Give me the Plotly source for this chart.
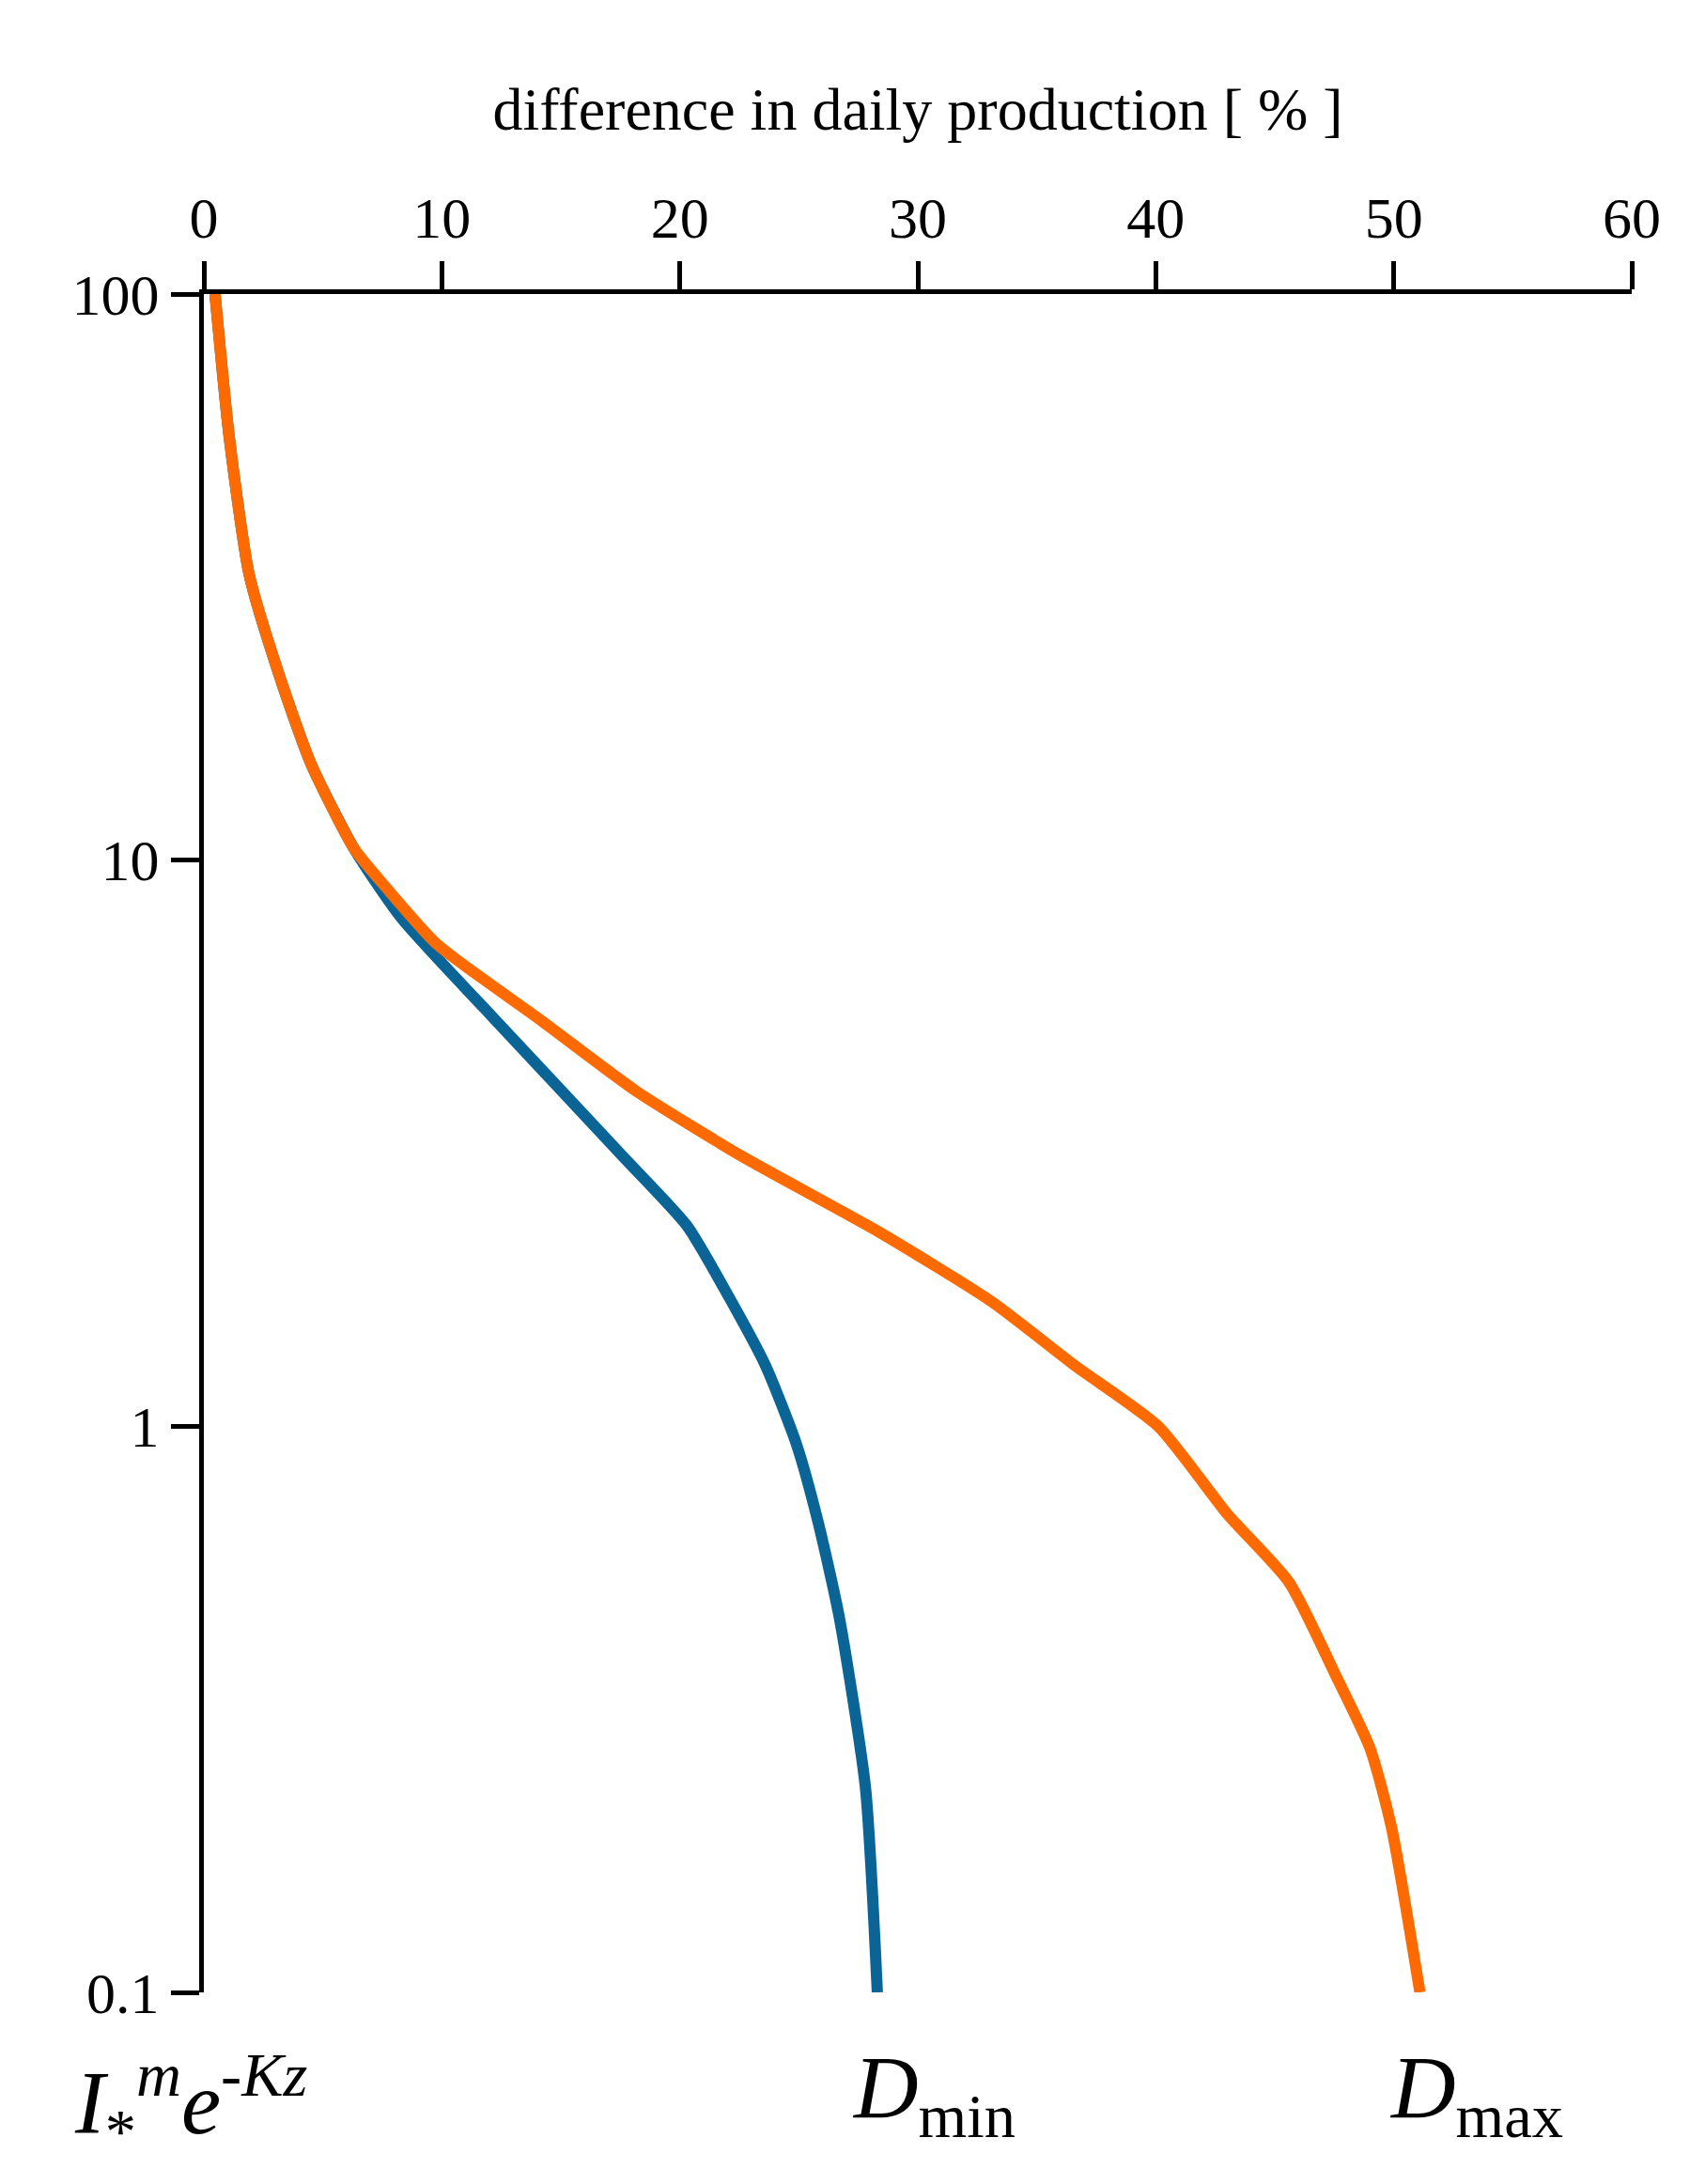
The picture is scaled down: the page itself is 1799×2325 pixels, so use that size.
import plotly.graph_objects as go

irr_max = [100, 56.6, 32, 21, 14.8, 10.5, 8.9, 7.1, 5.2, 3.9, 3.0, 2.2, 1.66, 1.28, 1.0, 0.70, 0.53, 0.36, 0.27, 0.196, 0.1]
d_max = [0.47, 1.05, 1.9, 3.2, 4.5, 6.3, 7.7, 9.8, 14.2, 18.2, 22.6, 28.4, 33.1, 36.6, 40.1, 43.0, 45.6, 47.6, 49.0, 49.9, 51.1]
irr_min = [100, 56.6, 32, 21, 14.8, 10.5, 7.9, 5.3, 3.0, 2.26, 1.71, 1.28, 0.93, 0.68, 0.46, 0.23, 0.1]
d_min = [0.47, 1.05, 1.9, 3.2, 4.5, 6.3, 8.3, 12.1, 17.6, 20.3, 22.0, 23.6, 24.9, 25.8, 26.7, 27.8, 28.3]

F = "Liberation Serif"
fig = go.Figure()
fig.add_trace(go.Scatter(x=d_min, y=irr_min, mode="lines", line=dict(color="#0a6496", width=12, shape="spline", smoothing=0.6)))
fig.add_trace(go.Scatter(x=d_max, y=irr_max, mode="lines", line=dict(color="#ff6a00", width=12, shape="spline", smoothing=0.6)))

fig.update_layout(
    width=1799, height=2325, showlegend=False,
    plot_bgcolor="white", paper_bgcolor="white",
    margin=dict(l=209, r=70, t=305, b=212),
    font=dict(family=F, size=62, color="black"),
    xaxis=dict(side="top", range=[0, 60], tickvals=[0, 10, 20, 30, 40, 50, 60],
               showgrid=False, zeroline=False, showline=True, linecolor="black", linewidth=5,
               ticks="outside", ticklen=30, tickwidth=5, tickcolor="black",
               title=dict(text="difference in daily production [ % ]", font=dict(size=64, family=F), standoff=40)),
    yaxis=dict(type="log", range=[-1, 2], tickvals=[0.1, 1, 10, 100], ticktext=["0.1", "1", "10", "100"],
               showgrid=False, zeroline=False, showline=True, linecolor="black", linewidth=5,
               ticks="outside", ticklen=30, tickwidth=5, tickcolor="black"),
)
fig.add_annotation(x=0.0, y=-0.065, xref="paper", yref="paper", xanchor="left", yanchor="middle",
                   text="<i>I</i><sub>*</sub><sup><i>m</i></sup><i>e</i><sup>-<i>Kz</i></sup>",
                   showarrow=False, font=dict(family=F, size=95), xshift=-140)
fig.add_annotation(x=28.3, y=-0.06, xref="x", yref="paper", yanchor="middle",
                   text="<i>D</i><sub>min</sub>", showarrow=False, font=dict(family=F, size=95), xshift=60)
fig.add_annotation(x=51.1, y=-0.06, xref="x", yref="paper", yanchor="middle",
                   text="<i>D</i><sub>max</sub>", showarrow=False, font=dict(family=F, size=95), xshift=60)
fig.write_html("out.html")
